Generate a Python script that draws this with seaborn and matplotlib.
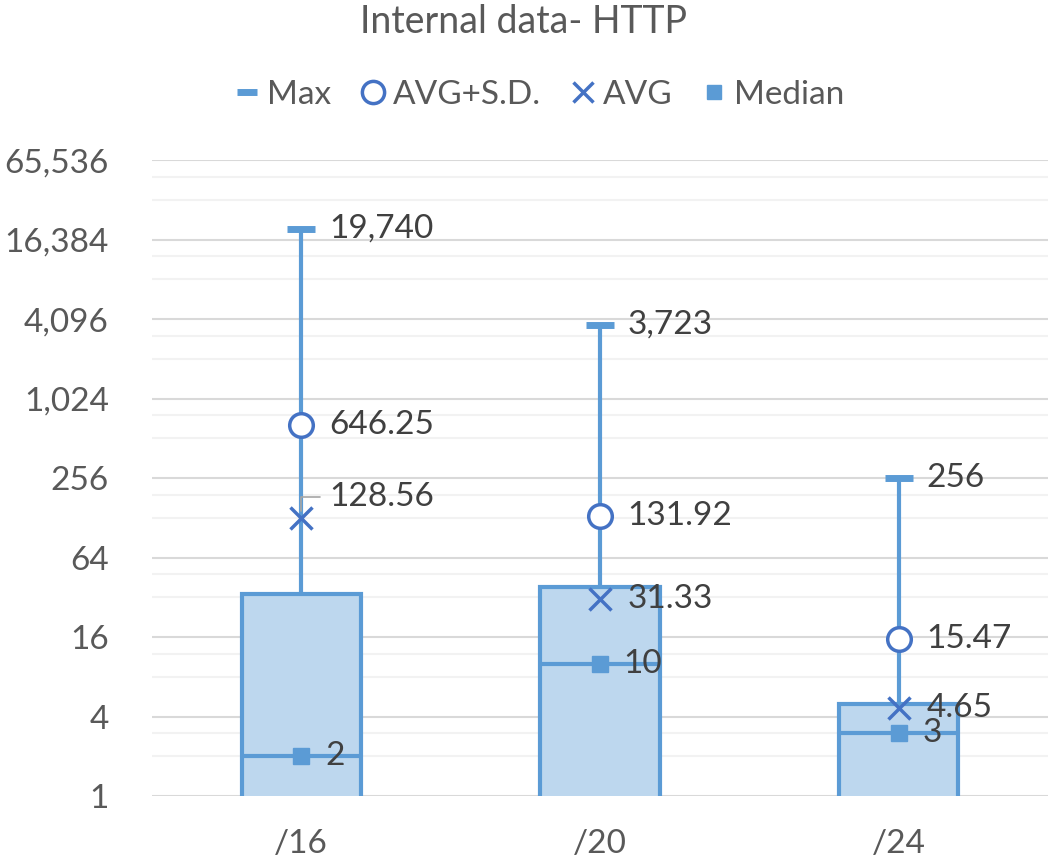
import numpy as np
import pandas as pd
import seaborn as sns
import matplotlib.pyplot as plt
from matplotlib.lines import Line2D
from matplotlib.ticker import LogLocator, FuncFormatter, NullFormatter

# data
categories = ["/16", "/20", "/24"]
q3_vals = [34, 38, 5]
median_vals = [2, 10, 3]
avg_vals = [128.56, 31.33, 4.65]
avg_sd_vals = [646.25, 131.92, 15.47]
max_vals = [19740, 3723, 256]
yticks = [1, 4, 16, 64, 256, 1024, 4096, 16384, 65536]

df = pd.DataFrame({"prefix": categories, "q3": q3_vals})

box_edge = "#5B9BD5"
box_fill = "#BDD7EE"
dark_blue = "#4472C4"
txt = "#595959"
lbl = "#404040"

sns.set_style("white")
plt.rcParams["font.family"] = ["Lato", "DejaVu Sans"]

fig = plt.figure(figsize=(10.48, 8.65), dpi=100)
ax = fig.add_axes([0.145, 0.0798, 0.855, 0.735])

ax.set_yscale("log", base=2)
ax.set_ylim(1, 65536)

sns.barplot(data=df, x="prefix", y="q3", color=box_fill, width=0.4,
            edgecolor=box_edge, linewidth=3, saturation=1, ax=ax, zorder=2)

pos = np.arange(len(categories))
# median lines and whiskers
ax.hlines(median_vals, pos - 0.2, pos + 0.2, color=box_edge, lw=3, zorder=3)
ax.vlines(pos, q3_vals, max_vals, color=box_edge, lw=3, zorder=1.5)

sns.scatterplot(x=pos, y=max_vals, marker="_", s=420, linewidth=5,
                color=box_edge, ax=ax, zorder=4)
ax.plot(pos, avg_sd_vals, ls="none", marker="o", ms=17, mfc="white",
        mec=dark_blue, mew=2.5, zorder=4)
ax.plot(pos, avg_vals, ls="none", marker="x", ms=16, mec=dark_blue,
        mew=2.5, zorder=4)
ax.plot(pos, median_vals, ls="none", marker="s", ms=11, mfc=box_edge,
        mec=box_edge, zorder=4)

# data labels
fs = 24
for i in range(len(categories)):
    ax.annotate(f"{max_vals[i]:,}", (pos[i], max_vals[i]), xytext=(20, 0),
                textcoords="offset points", va="center", fontsize=fs, color=lbl)
    ax.annotate(f"{avg_sd_vals[i]:.2f}", (pos[i], avg_sd_vals[i]), xytext=(20, 0),
                textcoords="offset points", va="center", fontsize=fs, color=lbl)
    ax.annotate(f"{median_vals[i]}", (pos[i], median_vals[i]), xytext=(17, 0),
                textcoords="offset points", va="center", fontsize=fs, color=lbl)
    if i == 0:
        # label moved up with a leader line, as in the original
        ax.annotate(f"{avg_vals[i]:.2f}", (pos[i], avg_vals[i]), xytext=(20, 15),
                    textcoords="offset points", va="center", fontsize=fs, color=lbl,
                    zorder=6,
                    arrowprops=dict(arrowstyle="-", color="#A6A6A6", lw=1.2,
                                    shrinkA=4, shrinkB=5,
                                    connectionstyle="angle,angleA=180,angleB=90,rad=0"))
    else:
        ax.annotate(f"{avg_vals[i]:.2f}", (pos[i], avg_vals[i]), xytext=(20, 0),
                    textcoords="offset points", va="center", fontsize=fs, color=lbl)

# axes styling
ax.set_yticks(yticks)
ax.yaxis.set_major_formatter(FuncFormatter(lambda v, p: f"{int(round(v)):,}"))
ax.yaxis.set_minor_locator(LogLocator(base=4, subs=[2, 3], numticks=20))
ax.yaxis.set_minor_formatter(NullFormatter())
ax.set_ylim(1, 65536)
ax.set_xlim(-0.5, 2.5)
ax.grid(axis="y", which="major", color="#D9D9D9", lw=1.5, zorder=0)
ax.grid(axis="y", which="minor", color="#F2F2F2", lw=1.5, zorder=0)
ax.set_axisbelow(True)
for s in ax.spines.values():
    s.set_visible(False)
ax.tick_params(axis="both", which="both", length=0, labelsize=fs, colors=txt)
ax.tick_params(axis="y", pad=31)
ax.tick_params(axis="x", pad=24)
ax.set_xlabel("")
ax.set_ylabel("")

fig.suptitle("Internal data- HTTP", x=0.5, y=0.995, fontsize=27, color=txt)

handles = [
    Line2D([], [], ls="none", marker="_", ms=15, mew=5, color=box_edge),
    Line2D([], [], ls="none", marker="o", ms=16, mfc="white", mec=dark_blue, mew=2.5),
    Line2D([], [], ls="none", marker="x", ms=15, mec=dark_blue, mew=2.5),
    Line2D([], [], ls="none", marker="s", ms=10, mfc=box_edge, mec=box_edge),
]
fig.legend(handles, ["Max", "AVG+S.D.", "AVG", "Median"], loc="center",
           bbox_to_anchor=(0.513, 0.89), ncol=4, frameon=False, fontsize=24,
           labelcolor=txt, handletextpad=0.1, columnspacing=0.75, handlelength=1.0)

fig.savefig("out.png", dpi=100)
